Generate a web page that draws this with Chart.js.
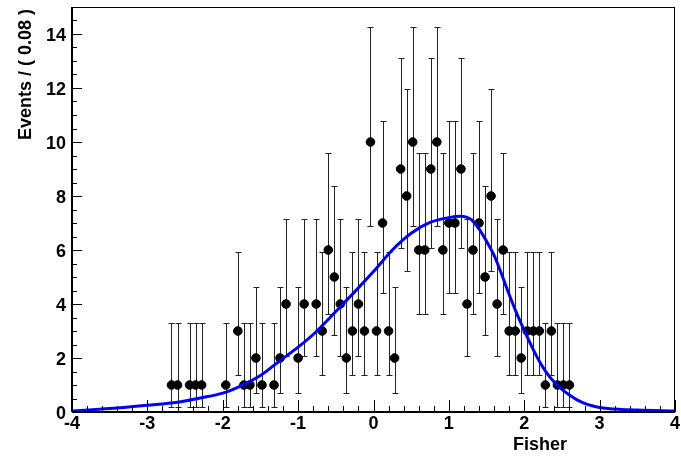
<!DOCTYPE html>
<html>
<head>
<meta charset="utf-8">
<script src="https://cdn.jsdelivr.net/npm/chart.js@4/dist/chart.umd.min.js"></script>
<style>
body { margin: 0; background: #fff; }
canvas { display: block; }
</style>
</head>
<body>
<canvas id="graph" width="681" height="459"></canvas>
<script>
'use strict';

// ビンの中心 (幅 0.08)
let binX = [-2.68, -2.60, -2.44, -2.36, -2.28, -1.96, -1.80, -1.72, -1.64, -1.56,
    -1.48, -1.32, -1.24, -1.16, -1.00, -0.92, -0.76, -0.68, -0.60, -0.52,
    -0.44, -0.36, -0.28, -0.20, -0.12, -0.04, 0.04, 0.12, 0.20, 0.28,
    0.36, 0.44, 0.52, 0.60, 0.68, 0.76, 0.84, 0.92, 1.00, 1.08,
    1.16, 1.24, 1.32, 1.40, 1.48, 1.56, 1.64, 1.72, 1.80, 1.88,
    1.96, 2.04, 2.12, 2.20, 2.28, 2.36, 2.44, 2.52, 2.60];
// ビンごとのイベント数
let counts = [1, 1, 1, 1, 1, 1, 3, 1, 1, 2,
    1, 1, 2, 4, 2, 4, 4, 3, 6, 5,
    4, 2, 3, 4, 3, 10, 3, 7, 3, 2,
    9, 8, 10, 6, 6, 9, 10, 6, 7, 7,
    9, 4, 6, 7, 5, 8, 4, 6, 3, 3,
    2, 3, 3, 3, 1, 3, 1, 1, 1];
// エラーバーの下端・上端 (イベント数ごと)
let errLow = [0, 0.17, 0.71, 1.37, 2.09, 2.84, 3.62, 4.42, 5.23, 6.06, 6.89];
let errHigh = [1.84, 3.30, 4.64, 5.92, 7.16, 8.38, 9.58, 10.77, 11.95, 13.11, 14.27];

// フィット曲線 (図から読んだ値)
let curveX = [-4, -3.5, -3, -2.6, -2.3, -2, -1.75, -1.5, -1.25, -1, -0.75, -0.5, -0.25, 0,
    0.25, 0.5, 0.75, 1, 1.15, 1.3, 1.4, 1.5, 1.6, 1.7, 1.8, 1.9, 2, 2.1, 2.2, 2.3,
    2.4, 2.5, 2.6, 2.7, 2.8, 2.9, 3, 3.25, 3.5, 4];
let curveY = [0.04, 0.13, 0.25, 0.36, 0.52, 0.70, 0.98, 1.35, 1.88, 2.40, 3.00, 3.72, 4.45, 5.20,
    6.00, 6.62, 7.02, 7.20, 7.25, 7.12, 6.78, 6.32, 5.80, 5.10, 4.35, 3.65, 3.02, 2.42, 1.88, 1.44,
    1.10, 0.84, 0.63, 0.45, 0.32, 0.23, 0.17, 0.10, 0.07, 0.04];

let xTicks = [-4, -3, -2, -1, 0, 1, 2, 3, 4];
let yTicks = [0, 2, 4, 6, 8, 10, 12, 14];
let xTitle = 'Fisher';
let yTitle = 'Events / ( 0.08 )';

let font = 'bold 18px "Liberation Sans", Arial, sans-serif';

// エラーバーを描く
const errorBars = {
    id: 'errorBars',
    beforeDatasetsDraw(chart) {
        let ctx = chart.ctx;
        let xs = chart.scales.x;
        let ys = chart.scales.y;
        ctx.save();
        ctx.strokeStyle = '#222';
        ctx.lineWidth = 1;
        for (let i = 0; i < binX.length; i++) {
            let px = Math.round(xs.getPixelForValue(binX[i])) + 0.5;
            let top = Math.round(ys.getPixelForValue(errHigh[counts[i]])) + 0.5;
            let bottom = Math.round(ys.getPixelForValue(errLow[counts[i]])) + 0.5;
            ctx.beginPath();
            ctx.moveTo(px, top);
            ctx.lineTo(px, bottom);
            ctx.moveTo(px - 3, top);
            ctx.lineTo(px + 3, top);
            ctx.moveTo(px - 3, bottom);
            ctx.lineTo(px + 3, bottom);
            ctx.stroke();
        }
        ctx.restore();
    }
};

// ROOT風の枠・目盛り・ラベル
const frame = {
    id: 'frame',
    afterDraw(chart) {
        let ctx = chart.ctx;
        let xs = chart.scales.x;
        let ys = chart.scales.y;
        let a = chart.chartArea;
        ctx.save();
        ctx.strokeStyle = '#000';
        ctx.lineWidth = 1;
        ctx.strokeRect(a.left + 0.5, a.top + 0.5, a.right - a.left - 1, a.bottom - a.top);
        ctx.lineWidth = 2;
        ctx.beginPath();
        ctx.moveTo(a.left, a.bottom);
        ctx.lineTo(a.right, a.bottom);
        ctx.moveTo(a.left, a.top);
        ctx.lineTo(a.left, a.bottom);
        ctx.stroke();

        ctx.lineWidth = 1;
        ctx.beginPath();
        //x軸の目盛り (0.2ごと)
        for (let k = 0; k <= 40; k++) {
            let v = -4 + k * 0.2;
            let px = Math.round(xs.getPixelForValue(v)) + 0.5;
            let len = (k % 5 === 0) ? 12 : 6;
            ctx.moveTo(px, a.bottom);
            ctx.lineTo(px, a.bottom - len);
        }
        //y軸の目盛り (0.5ごと)
        for (let k = 0; k <= 30; k++) {
            let v = k * 0.5;
            let py = Math.round(ys.getPixelForValue(v)) + 0.5;
            let len = (k % 4 === 0) ? 10 : 5;
            ctx.moveTo(a.left, py);
            ctx.lineTo(a.left + len, py);
        }
        ctx.stroke();

        ctx.fillStyle = '#000';
        ctx.font = font;
        ctx.textAlign = 'center';
        ctx.textBaseline = 'alphabetic';
        for (let v of xTicks) {
            ctx.fillText(String(v), xs.getPixelForValue(v), a.bottom + 17);
        }
        ctx.textAlign = 'right';
        for (let v of yTicks) {
            ctx.fillText(String(v), a.left - 6, ys.getPixelForValue(v) + 6.5);
        }
        ctx.fillText(xTitle, 567, 450);

        ctx.translate(31, 9);
        ctx.rotate(-Math.PI / 2);
        ctx.textAlign = 'right';
        ctx.fillText(yTitle, 0, 0);
        ctx.restore();
    }
};

let context = document.querySelector('#graph').getContext('2d');
let chart = new Chart(context, {
    type: 'scatter',
    data: {
        datasets: [{
            type: 'line',
            data: curveX.map((x, i) => ({ x: x, y: curveY[i] })),
            borderColor: '#0000ff',
            borderWidth: 3,
            pointRadius: 0,
            fill: false,
            cubicInterpolationMode: 'monotone',
            order: 0
        }, {
            data: binX.map((x, i) => ({ x: x, y: counts[i] })),
            backgroundColor: '#000',
            borderColor: '#000',
            pointRadius: 4.3,
            pointHoverRadius: 4.3,
            order: 1
        }]
    },
    options: {
        responsive: false,
        animation: false,
        devicePixelRatio: 1,
        layout: { padding: { left: 72, right: 6, top: 7, bottom: 47 } },
        plugins: {
            legend: { display: false },
            tooltip: { enabled: false }
        },
        scales: {
            x: { type: 'linear', min: -4, max: 4, display: false },
            y: { type: 'linear', min: 0, max: 15, display: false }
        }
    },
    plugins: [errorBars, frame]
});
</script>
</body>
</html>
